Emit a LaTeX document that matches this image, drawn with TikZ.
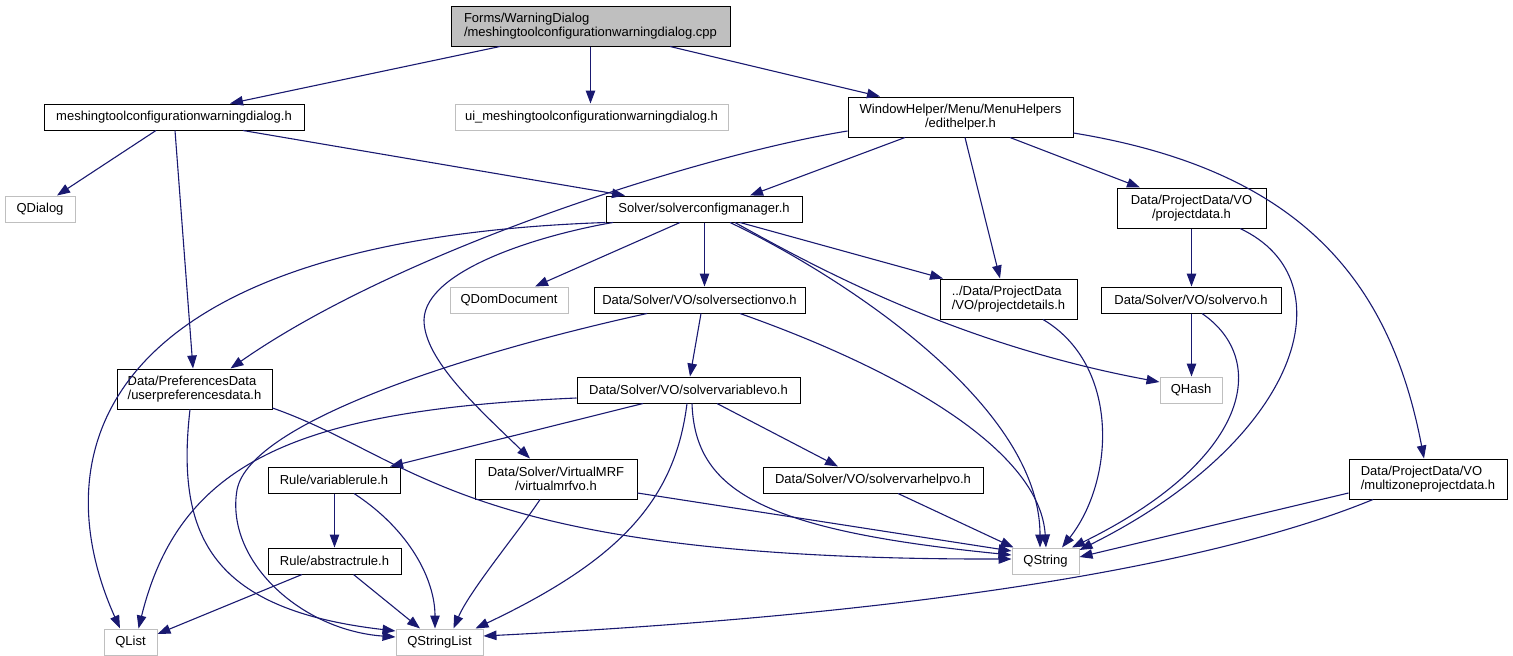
\documentclass[tikz,border=0pt]{standalone}
\usepackage{fontspec}
\setmainfont{Liberation Sans}
\usetikzlibrary{arrows.meta}
\definecolor{eb}{HTML}{191970}
\definecolor{lg}{HTML}{BFBFBF}
\begin{document}
\begin{tikzpicture}[x=1pt,y=-1pt,
  base/.style={inner sep=0pt,line width=1pt,fill=white,font=\fontsize{13}{14.5}\selectfont},
  nd/.style={base,draw=black},
  ext/.style={base,draw=lg},
  sz/.style 2 args={minimum width=#1pt,minimum height=#2pt},
  e/.style={draw=eb,line width=1.1pt,-{Triangle[length=13pt,width=9.5pt]}}]
\useasboundingbox (0,0) rectangle (1513,656);
% nodes
\node[nd,fill=lg,sz={279}{40},align=left] (root) at (590.5,26) {Forms/WarningDialog\\/meshingtoolconfigurationwarningdialog.cpp};
\node[nd,sz={260}{26}] (mtcwd) at (174,117) {meshingtoolconfigurationwarningdialog.h};
\node[ext,sz={273}{26}] (ui) at (591.5,117) {ui\_meshingtoolconfigurationwarningdialog.h};
\node[nd,sz={225}{40},align=center] (edit) at (960.5,117) {WindowHelper/Menu/MenuHelpers\\/edithelper.h};
\node[ext,sz={70}{26}] (qdialog) at (40,209) {QDialog};
\node[nd,sz={196}{26}] (scm) at (704,209) {Solver/solverconfigmanager.h};
\node[nd,sz={149}{40},align=center] (pdata) at (1191.5,208) {Data/ProjectData/VO\\/projectdata.h};
\node[ext,sz={118}{26}] (qdom) at (509,300) {QDomDocument};
\node[nd,sz={211}{26}] (ssvo) at (699.5,300) {Data/Solver/VO/solversectionvo.h};
\node[nd,sz={137}{40},align=left] (pdet) at (1008.5,299) {../Data/ProjectData\\/VO/projectdetails.h};
\node[nd,sz={180}{26}] (svo) at (1191,300) {Data/Solver/VO/solvervo.h};
\node[nd,sz={155}{40},align=left] (upref) at (194.5,389) {Data/PreferencesData\\/userpreferencesdata.h};
\node[nd,sz={223}{26}] (svarvo) at (688.5,390) {Data/Solver/VO/solvervariablevo.h};
\node[ext,sz={62}{26}] (qhash) at (1191,390) {QHash};
\node[nd,sz={132}{26}] (vrule) at (334,480) {Rule/variablerule.h};
\node[nd,sz={162}{40},align=center] (vmrf) at (556,479) {Data/Solver/VirtualMRF\\/virtualmrfvo.h};
\node[nd,sz={220}{26}] (svh) at (873,480) {Data/Solver/VO/solvervarhelpvo.h};
\node[nd,sz={158}{40},align=left] (mzone) at (1428,479) {Data/ProjectData/VO\\/multizoneprojectdata.h};
\node[nd,sz={133}{26}] (arule) at (334.5,561) {Rule/abstractrule.h};
\node[ext,sz={67}{26}] (qstring) at (1045.5,561) {QString};
\node[ext,sz={53}{26}] (qlist) at (130.5,642) {QList};
\node[ext,sz={87}{26}] (qsl) at (439.5,642) {QStringList};
% helper points for the vertical connectors (half-pixel aligned)
\coordinate (scmS) at ([xshift=0.5pt]scm.south);
\coordinate (vrS) at ([xshift=0.5pt]vrule.south);
\coordinate (svoS) at ([xshift=0.5pt]svo.south);
% root
\draw[e] ([xshift=-90.5pt]root.south) -- ([xshift=56pt]mtcwd.north);
\draw[e] (root.south) -- (root.south |- ui.north);
\draw[e] ([xshift=79.5pt]root.south) -- ([xshift=-80.5pt]edit.north);
% mtcwd
\draw[e] ([xshift=-18pt]mtcwd.south) -- ([xshift=17pt]qdialog.north);
\draw[e] ([xshift=1pt]mtcwd.south) -- ([xshift=-1.5pt]upref.north);
\draw[e] ([xshift=69pt]mtcwd.south) -- ([xshift=-79pt]scm.north);
% edit
\draw[e] ([xshift=-55.5pt]edit.south) -- ([xshift=46pt]scm.north);
\draw[e] ([yshift=-14pt]edit.west) .. controls (700,155) and (400,250) .. ([xshift=36pt]upref.north);
\draw[e] ([xshift=4.5pt]edit.south) -- ([xshift=-8.5pt]pdet.north);
\draw[e] ([xshift=49.5pt]edit.south) -- ([xshift=-51.5pt]pdata.north);
\draw[e] ([yshift=-16pt]edit.east) .. controls (1300,170) and (1390,280) .. ([xshift=-4pt]mzone.north);
% scm
\draw[e] (scm.south west) .. controls (100,240) and (40,450) .. ([xshift=-10.5pt]qlist.north);
\draw[e] ([xshift=-24pt]scm.south) -- ([xshift=26pt]qdom.north);
\draw[e] (scmS) -- (scmS |- ssvo.north);
\draw[e] ([xshift=36pt]scm.south) -- ([xshift=-65.5pt]pdet.north);
\draw[e] ([xshift=31pt]scm.south) .. controls (820,270) and (960,345) .. ([yshift=8pt]qhash.west);
\draw[e] ([xshift=26pt]scm.south) .. controls (830,270) and (1040,400) .. ([xshift=-5.5pt]qstring.north);
\draw[e] ([xshift=-91pt]scm.south) .. controls (540,235) and (425,270) .. (424,320) .. controls (424,360) and (480,410) .. ([xshift=-26pt]vmrf.north);
% ssvo
\draw[e] ([xshift=1.5pt]ssvo.south) -- ([xshift=1.5pt]svarvo.north);
\draw[e] ([xshift=-52.5pt]ssvo.south) .. controls (480,350) and (250,420) .. (237,490) .. controls (225,560) and (300,630) .. ([yshift=5pt]qsl.west);
\draw[e] ([xshift=40.5pt]ssvo.south) .. controls (900,370) and (1040,450) .. ([xshift=0.5pt]qstring.north);
% pdet
\draw[e] ([xshift=34.5pt]pdet.south) .. controls (1120,365) and (1115,480) .. ([xshift=16.5pt]qstring.north);
% pdata
\draw[e] (pdata.south) -- (pdata.south |- svo.north);
\draw[e] ([xshift=48.5pt]pdata.south) .. controls (1350,280) and (1300,440) .. ([yshift=11pt]qstring.east);
% svo
\draw[e] (svoS) -- (svoS |- qhash.north);
\draw[e] ([xshift=11pt]svo.south) .. controls (1270,360) and (1250,460) .. ([xshift=26.5pt]qstring.north);
% upref
\draw[e] ([xshift=-4.5pt]upref.south) .. controls (175,540) and (215,610) .. ([yshift=11pt]qsl.west);
\draw[e] ([yshift=-19pt]upref.east) .. controls (420,460) and (460,560) .. ([yshift=2pt]qstring.west);
% svarvo
\draw[e] ([yshift=-8pt]svarvo.west) .. controls (300,410) and (180,460) .. ([xshift=8pt]qlist.north);
\draw[e] ([xshift=-45.5pt]svarvo.south) -- ([xshift=56pt]vrule.north);
\draw[e] ([xshift=-1.5pt]svarvo.south) .. controls (675,500) and (620,560) .. ([xshift=36pt]qsl.north);
\draw[e] ([xshift=3.5pt]svarvo.south) .. controls (695,490) and (760,530) .. ([yshift=6pt]qstring.west);
\draw[e] ([xshift=28.5pt]svarvo.south) -- ([xshift=-35pt]svh.north);
% vrule
\draw[e] (vrS) -- (vrS |- arule.north);
\draw[e] ([xshift=20pt]vrule.south) .. controls (410,530) and (435,580) .. ([xshift=-4.5pt]qsl.north);
% arule
\draw[e] ([xshift=-32.5pt]arule.south) -- ([yshift=8pt]qlist.east);
\draw[e] ([xshift=19pt]arule.south) -- ([xshift=-19.5pt]qsl.north);
% vmrf
\draw[e] ([xshift=-16pt]vmrf.south) .. controls (520,530) and (470,590) .. ([xshift=14pt]qsl.north);
\draw[e] ([yshift=-14pt]vmrf.east) -- ([yshift=10pt]qstring.west);
% svh
\draw[e] ([xshift=25pt]svh.south) -- ([xshift=-32pt]qstring.north);
% mzone
\draw[e] ([yshift=-14pt]mzone.west) -- ([yshift=4pt]qstring.east);
\draw[e] ([xshift=-55pt]mzone.south) .. controls (1250,550) and (1000,610) .. ([yshift=6pt]qsl.east);
\end{tikzpicture}
\end{document}
